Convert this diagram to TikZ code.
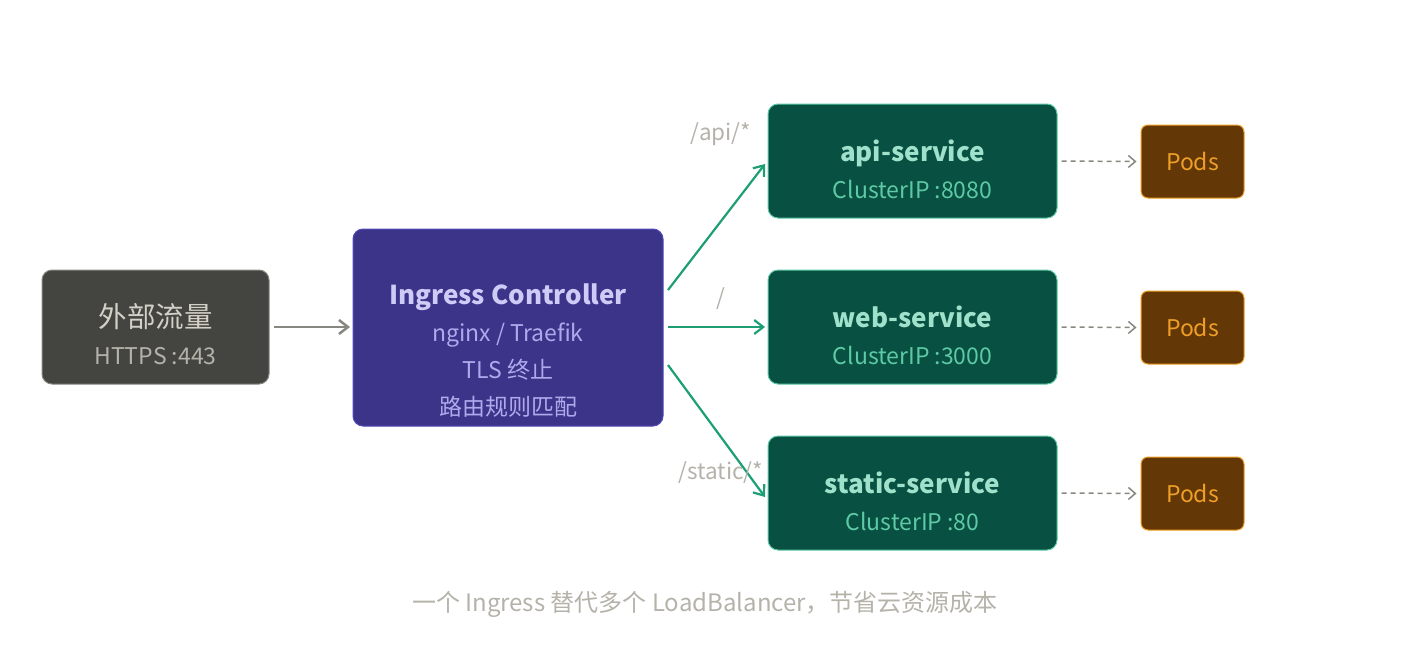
\documentclass[tikz,border=0pt]{standalone}
\usepackage{fontspec}
\setmainfont{Noto Sans CJK SC}
\usetikzlibrary{arrows.meta}
\definecolor{extfill}{HTML}{444441}
\definecolor{extline}{HTML}{888780}
\definecolor{exttxt}{HTML}{D3D1C7}
\definecolor{extsub}{HTML}{B4B2A9}
\definecolor{ingfill}{HTML}{3C3489}
\definecolor{ingline}{HTML}{534AB7}
\definecolor{ingtxt}{HTML}{CECBF6}
\definecolor{ingsub}{HTML}{AFA9EC}
\definecolor{svcfill}{HTML}{085041}
\definecolor{svcline}{HTML}{5DCAA5}
\definecolor{svctxt}{HTML}{9FE1CB}
\definecolor{svcsub}{HTML}{5DCAA5}
\definecolor{podfill}{HTML}{633806}
\definecolor{podline}{HTML}{EF9F27}
\definecolor{green}{HTML}{1D9E75}
\definecolor{gray}{HTML}{888780}
\definecolor{lbl}{HTML}{B4B2A9}
\tikzset{
  x=1pt,y=-1pt,
  box/.style={rounded corners=10pt, line width=1pt, inner sep=0pt},
  boxtext/.style={inner sep=0pt, align=center, font=\fontsize{23}{37}\selectfont},
  extbox/.style={box, fill=extfill, draw=extline, minimum width=227pt, minimum height=114pt},
  ingbox/.style={box, fill=ingfill, draw=ingline, minimum width=310pt, minimum height=197pt},
  svcbox/.style={box, fill=svcfill, draw=svcline, minimum width=289pt, minimum height=114pt},
  podbox/.style={box, rounded corners=7pt, fill=podfill, draw=podline, minimum width=103pt, minimum height=73pt, text=podline, font=\fontsize{23}{26}\selectfont},
  greenarrow/.style={draw=green, line width=2.2pt, -{Straight Barb[length=9pt,width=14pt,line width=2.2pt]}},
  grayarrow/.style={draw=gray, line width=2.5pt, -{Straight Barb[length=9pt,width=14pt,line width=2.5pt]}},
  dasharrow/.style={draw=gray, line width=1.5pt, dash pattern=on 5pt off 4pt, -{Straight Barb[length=7pt,width=12pt,line width=1.5pt]}},
  lbltxt/.style={text=lbl, font=\fontsize{22.5}{26}\selectfont, inner sep=0pt},
}
\newcommand{\ttl}[2]{{\color{#1}\fontsize{26}{37}\selectfont\bfseries #2}}
\newcommand{\sub}[2]{{\color{#1}#2}}
\begin{document}
\begin{tikzpicture}
\useasboundingbox (0,0) rectangle (1410,664);
\node[extbox] (ext) at (155.5,327) {};
\node[boxtext] (extt) at ([yshift=-7pt]ext.center) {\textcolor{exttxt}{\fontsize{28.5}{37}\selectfont 外部流量}\\\sub{extsub}{HTTPS :443}};
\node[ingbox] (ing) at (508,327.5) {};
\node[boxtext] (ingt) at ([yshift=-23pt]ing.center) {\ttl{ingtxt}{Ingress Controller}\\\sub{ingsub}{nginx / Traefik}\\\sub{ingsub}{TLS 终止}\\\sub{ingsub}{路由规则匹配}};
\node[svcbox] (api) at (912.5,161) {};
\node[boxtext] (apit) at ([yshift=-8pt]api.center) {\ttl{svctxt}{api-service}\\\sub{svcsub}{ClusterIP :8080}};
\node[svcbox] (web) at (912.5,327) {};
\node[boxtext] (webt) at ([yshift=-8pt]web.center) {\ttl{svctxt}{web-service}\\\sub{svcsub}{ClusterIP :3000}};
\node[svcbox] (sta) at (912.5,493) {};
\node[boxtext] (stat) at ([yshift=-8pt]sta.center) {\ttl{svctxt}{static-service}\\\sub{svcsub}{ClusterIP :80}};
\node[podbox] (p1) at (1192.5,161.5) {Pods};
\node[podbox] (p2) at (1192.5,327.5) {Pods};
\node[podbox] (p3) at (1192.5,493.5) {Pods};
\coordinate (e1) at (274,327);
\coordinate (e2) at (350,327);
\draw[grayarrow] (e1) -- (e2);
\coordinate (a0) at (668,290);
\coordinate (a1) at (765,164);
\coordinate (b0) at (668,327);
\coordinate (b1) at (765,327);
\coordinate (c0) at (668,365);
\coordinate (c1) at (765,497);
\draw[greenarrow] (a0) -- (a1);
\draw[greenarrow] (b0) -- (b1);
\draw[greenarrow] (c0) -- (c1);
\node[lbltxt] (l1) at (721,134) {/api/*};
\node[lbltxt] (l2) at (721,299) {/};
\node[lbltxt] (l3) at (721,473) {/static/*};
\draw[dasharrow] ([xshift=4pt]api.east) -- ([xshift=-4pt]p1.west);
\draw[dasharrow] ([xshift=4pt]web.east) -- ([xshift=-4pt]p2.west);
\draw[dasharrow] ([xshift=4pt]sta.east) -- ([xshift=-4pt]p3.west);
\node[lbltxt, font=\fontsize{24}{28}\selectfont] (cap) at (705,604) {一个 Ingress 替代多个 LoadBalancer，节省云资源成本};
\end{tikzpicture}
\end{document}
